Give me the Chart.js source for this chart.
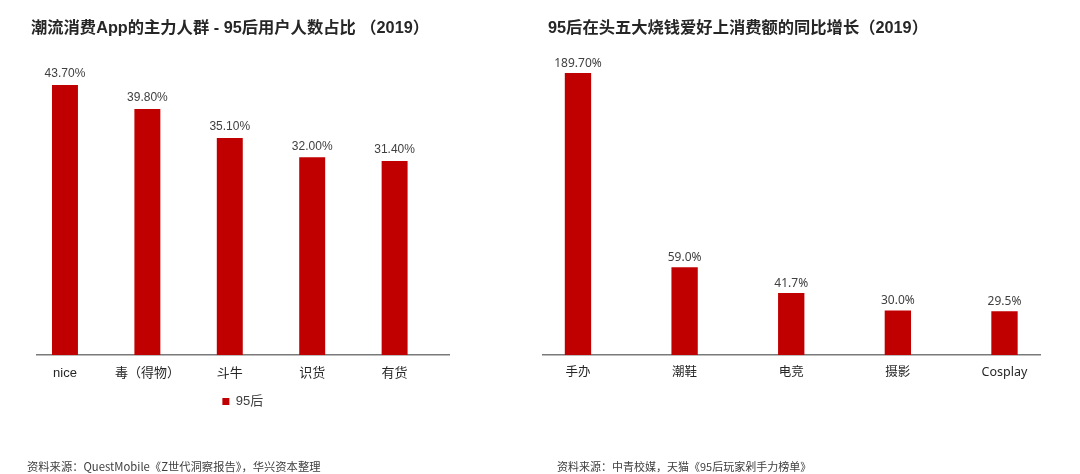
<!DOCTYPE html>
<html>
<head>
<meta charset="utf-8">
<script src="https://cdn.jsdelivr.net/npm/chart.js@4/dist/chart.umd.min.js"></script>
<style>
  html, body { margin: 0; padding: 0; background: #ffffff; }
  body { width: 1080px; height: 474px; position: relative; overflow: hidden; }
  .box { position: absolute; top: 0; width: 540px; height: 474px; }
  .title { position: absolute; font-family: "Liberation Sans", "Noto Sans CJK SC", sans-serif; font-weight: bold; font-size: 16.3px; line-height: 20px; color: #262626; white-space: nowrap; z-index: 2; }
  .source { position: absolute; font-family: "Noto Sans CJK SC", "Noto Sans", sans-serif; font-size: 11px; line-height: 14px; color: #404040; white-space: nowrap; z-index: 2; }
</style>
</head>
<body>
<div class="title" style="left:31px; top:17px;">潮流消费App的主力人群 - 95后用户人数占比 （2019）</div>
<div class="title" style="left:548px; top:17px;">95后在头五大烧钱爱好上消费额的同比增长（2019）</div>
<div class="source" style="left:27px; top:459px; font-size:11.3px;">资料来源：QuestMobile《Z世代洞察报告》，华兴资本整理</div>
<div class="source" style="left:557px; top:459px;">资料来源：中青校媒，天猫《95后玩家剁手力榜单》</div>
<div class="box" style="left:0px;"><canvas id="left"></canvas></div>
<div class="box" style="left:540px;"><canvas id="right"></canvas></div>
<script>
// ---- data ----
const leftCategories = ['nice', '毒（得物）', '斗牛', '识货', '有货'];
const leftValues = [43.7, 39.8, 35.1, 32.0, 31.4];
const leftSeriesName = '95后';

const rightCategories = ['手办', '潮鞋', '电竞', '摄影', 'Cosplay'];
const rightValues = [189.7, 59.0, 41.7, 30.0, 29.5];
const rightValueLabels = ['189.70%', '59.0%', '41.7%', '30.0%', '29.5%'];

const RED = '#C00000';

function valueLabelPlugin(labels, font, offset) {
  return {
    id: 'valueLabels',
    afterDatasetsDraw(chart) {
      const ctx = chart.ctx;
      const meta = chart.getDatasetMeta(0);
      ctx.save();
      ctx.font = font;
      ctx.fillStyle = '#404040';
      ctx.textAlign = 'center';
      ctx.textBaseline = 'middle';
      meta.data.forEach((el, i) => {
        ctx.fillText(labels[i], el.x, el.y - offset);
      });
      ctx.restore();
    }
  };
}

function makeChart(id, cats, vals, labels, opts) {
  return new Chart(document.getElementById(id), {
    type: 'bar',
    data: {
      datasets: [{
        label: opts.seriesName || '',
        data: vals.map((v, i) => ({ x: i, y: v })),
        backgroundColor: RED,
        borderWidth: 0,
        barPercentage: opts.barPct,
        categoryPercentage: 1
      }]
    },
    options: {
      responsive: true,
      maintainAspectRatio: false,
      animation: false,
      layout: { padding: opts.padding },
      plugins: {
        legend: opts.legend,
        tooltip: { enabled: false }
      },
      scales: {
        x: {
          type: 'linear',
          min: opts.xMin,
          max: opts.xMax,
          offset: false,
          grid: { display: false, drawTicks: false },
          border: { display: true, color: '#7a7a7a', width: 1.5 },
          afterBuildTicks: (s) => { s.ticks = cats.map((_, i) => ({ value: i })); },
          afterFit: (s) => { s.height = 30; },
          ticks: {
            autoSkip: false,
            maxRotation: 0,
            padding: opts.tickPad,
            color: '#262626',
            font: opts.tickFont,
            callback: (v) => cats[v]
          }
        },
        y: {
          display: false,
          min: 0,
          max: opts.yMax
        }
      }
    },
    plugins: [valueLabelPlugin(labels, opts.labelFont, opts.labelOffset)]
  });
}

makeChart('left', leftCategories, leftValues, leftValues.map(v => v.toFixed(2) + '%'), {
  seriesName: leftSeriesName,
  barPct: 0.315,
  xMin: -0.343,
  xMax: 4.66,
  yMax: 50,
  padding: { left: 36.7, right: 91, top: 46, bottom: 56 },
  tickPad: 11,
  tickFont: { family: '"Liberation Sans", "Noto Sans CJK SC", sans-serif', size: 13 },
  labelFont: '12px "Liberation Sans", "Noto Sans CJK SC", sans-serif',
  labelOffset: 11,
  legend: {
    display: true,
    position: 'bottom',
    labels: {
      boxWidth: 7,
      boxHeight: 7,
      padding: 10,
      color: '#404040',
      font: { family: '"Liberation Sans", "Noto Sans CJK SC", sans-serif', size: 13 }
    }
  }
});

makeChart('right', rightCategories, rightValues, rightValueLabels, {
  barPct: 0.247,
  xMin: -0.328,
  xMax: 4.333,
  yMax: 200,
  padding: { left: 3, right: 40, top: 57.7, bottom: 89 },
  tickPad: 9.5,
  tickFont: { family: '"Noto Sans", "Noto Sans CJK SC", sans-serif', size: 12.5 },
  labelFont: '12px "Noto Sans", "Noto Sans CJK SC", sans-serif',
  labelOffset: 9.5,
  legend: { display: false }
});
</script>
</body>
</html>
